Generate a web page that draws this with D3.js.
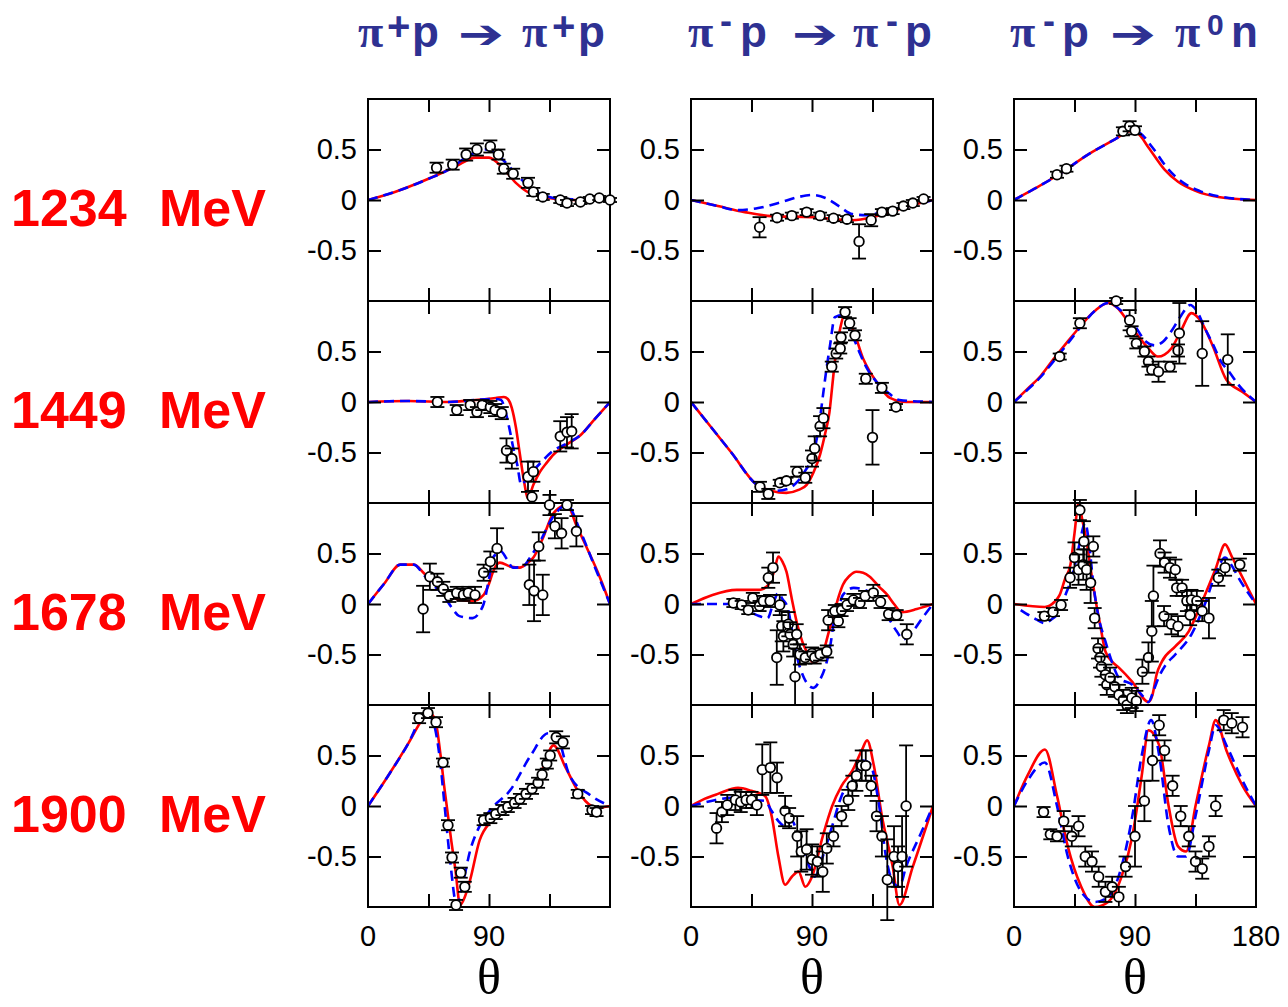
<!DOCTYPE html>
<html><head><meta charset="utf-8">
<script src="https://cdnjs.cloudflare.com/ajax/libs/d3/7.8.5/d3.min.js"></script>
<style>body{margin:0;background:#fff}svg{display:block}</style>
</head><body>
<script>
// ---------------- DATA ----------------
const energies = ["1234", "1449", "1678", "1900"];
const xTicks = [45, 90, 135];
const yTicks = [-0.5, 0, 0.5];
const yTickLabels = ["-0.5", "0", "0.5"];
const xTickLabels = [0, 90, 180];

// 1234 MeV
const red_1234_pp = [[0,0],[20,0.08],[45,0.21],[65,0.33],[80,0.42],[90,0.42],[100,0.32],[110,0.17],[120,0.07],[135,0.02],[150,0],[180,0]];
const blue_1234_pp = [[0,0],[20,0.08],[45,0.21],[60,0.3],[75,0.44],[88,0.5],[100,0.4],[110,0.26],[120,0.13],[130,0.05],[145,0.01],[180,0]];
const data_1234_pp = [[51,0.32,0.05],[63,0.35,0.05],[73,0.45,0.06],[81,0.5,0.06],[91,0.53,0.06],[97,0.45,0.05],[101,0.31,0.05],[108,0.26,0.05],[119,0.17,0.05],[123,0.08,0.04],[130,0.03,0.03],[143,0,0.03],[148,-0.03,0.03],[158,-0.02,0.02],[165,0.01,0.02],[172,0.02,0.02],[180,0,0.02]];

const red_1234_mp = [[0,0],[20,-0.06],[40,-0.12],[60,-0.16],[90,-0.17],[120,-0.2],[135,-0.17],[150,-0.11],[165,-0.05],[180,0]];
const blue_1234_mp = [[0,0],[20,-0.06],[35,-0.1],[50,-0.08],[65,-0.03],[80,0.03],[90,0.05],[100,0.02],[110,-0.06],[120,-0.14],[130,-0.15],[145,-0.11],[165,-0.05],[180,0]];
const data_1234_mp = [[51,-0.27,0.1],[64,-0.175,0.03],[75,-0.155,0.03],[86,-0.12,0.03],[96,-0.155,0.03],[106,-0.18,0.03],[116,-0.19,0.03],[125,-0.41,0.17],[134,-0.2,0.06],[142,-0.12,0.03],[150,-0.11,0.03],[158,-0.06,0.03],[165,-0.03,0.03],[173,0.01,0.02]];

const red_1234_cx = [[0,0],[15,0.11],[33,0.25],[55,0.45],[75,0.6],[86,0.68],[92,0.66],[100,0.52],[112,0.3],[122,0.18],[135,0.09],[152,0.03],[180,0]];
const blue_1234_cx = [[0,0],[15,0.11],[33,0.25],[55,0.45],[75,0.6],[87,0.69],[94,0.66],[103,0.52],[115,0.3],[126,0.17],[138,0.09],[155,0.03],[180,0]];
const data_1234_cx = [[32,0.25,0.03],[39,0.31,0.03],[81,0.68,0.04],[86,0.73,0.05],[90,0.69,0.04]];

// 1449 MeV
const red_1449_pp = [[0,0],[30,0.01],[60,0.0],[80,0.02],[95,0.04],[101,0.05],[104,0.03],[107,-0.06],[110,-0.25],[113,-0.52],[116,-0.78],[119,-0.95],[123,-0.82],[128,-0.69],[133,-0.6],[138,-0.52],[148,-0.42],[158,-0.33],[168,-0.18],[180,0]];
const blue_1449_pp = [[0,0],[30,0.01],[60,0.0],[80,0.02],[95,0.03],[99,0.02],[102,-0.08],[105,-0.25],[108,-0.45],[111,-0.62],[114,-0.82],[118,-0.76],[123,-0.68],[130,-0.58],[137,-0.49],[148,-0.41],[158,-0.33],[168,-0.18],[180,0]];
const data_1449_pp = [[51.6,0,0.05],[66,-0.08,0.05],[76,-0.03,0.05],[81,-0.1,0.05],[85,-0.03,0.05],[91,-0.05,0.06],[94.5,-0.08,0.06],[99.5,-0.11,0.06],[103,-0.48,0.12],[107,-0.56,0.1],[119,-0.74,0.15],[123,-0.69,0.1],[122,-0.94,0.06],[143,-0.34,0.15],[148,-0.3,0.15],[151.5,-0.29,0.17]];

const red_1449_mp = [[0,0],[15,-0.25],[30,-0.5],[49,-0.82],[60,-0.88],[71,-0.9],[80,-0.87],[86,-0.82],[91,-0.7],[96,-0.52],[100,-0.3],[103,-0.1],[105,0.15],[107,0.4],[111,0.73],[114,0.86],[117,0.8],[121,0.7],[128,0.43],[133,0.3],[138,0.2],[148,0.04],[160,0],[180,0]];
const blue_1449_mp = [[0,0],[15,-0.25],[30,-0.5],[49,-0.82],[62,-0.88],[72,-0.86],[79,-0.79],[85,-0.68],[91,-0.52],[95,-0.25],[98.5,0.1],[101,0.35],[103.4,0.56],[107,0.84],[113,0.86],[117,0.74],[121,0.63],[126,0.47],[131,0.33],[138,0.2],[146,0.1],[155,0.02],[180,0]];
const data_1449_mp = [[51.3,-0.84,0.05],[57.5,-0.91,0.05],[66,-0.8,0.03],[71,-0.78,0.03],[79,-0.69,0.05],[85,-0.75,0.05],[90,-0.56,0.08],[92,-0.46,0.12],[96,-0.24,0.1],[98.5,-0.16,0.1],[104.7,0.35,0.05],[108,0.48,0.05],[111,0.53,0.05],[111.6,0.64,0.05],[114.6,0.89,0.05],[118,0.78,0.05],[122,0.66,0.05],[130,0.23,0.05],[142,0.14,0.05],[135,-0.35,0.27],[152.5,-0.05,0.03]];

const red_1449_cx = [[0,0],[10,0.13],[20,0.26],[28,0.4],[40,0.6],[50,0.76],[60,0.9],[70,0.98],[77,0.93],[83,0.83],[92,0.66],[100,0.53],[107,0.45],[112,0.47],[117,0.53],[124,0.7],[132,0.88],[139,0.8],[148,0.55],[158,0.22],[170,0.1],[180,0]];
const blue_1449_cx = [[0,0],[10,0.12],[20,0.25],[28,0.38],[40,0.58],[50,0.75],[60,0.9],[70,0.98],[80,0.9],[90,0.75],[98,0.6],[105,0.56],[111,0.6],[117,0.7],[124,0.85],[131,0.96],[136,0.9],[142,0.73],[148,0.57],[154,0.4],[160,0.3],[167,0.17],[180,0]];
const data_1449_cx = [[34,0.45,0.03],[49,0.78,0.05],[76,1.0,0.03],[86,0.81,0.1],[87.5,0.7,0.05],[91,0.58,0.05],[97,0.5,0.05],[100,0.4,0.05],[102.5,0.32,0.05],[107.5,0.3,0.1],[116,0.35,0.05],[122,0.51,0.06],[123,0.68,0.3],[140,0.48,0.32],[159,0.42,0.25]];

// 1678 MeV
const red_1678_pp = [[0,0],[12,0.2],[24,0.39],[34,0.39],[42,0.3],[51,0.19],[60,0.1],[68,0.04],[78,0.03],[86,0.09],[90,0.2],[93,0.32],[98,0.41],[106,0.37],[113,0.36],[118,0.4],[123,0.46],[130,0.65],[138,0.9],[148,0.98],[155,0.78],[163,0.55],[172,0.28],[180,0]];
const blue_1678_pp = [[0,0],[12,0.2],[24,0.39],[34,0.39],[42,0.28],[50,0.17],[56,0.09],[62,-0.03],[68,-0.12],[78,-0.14],[83,-0.08],[86,0],[90,0.25],[93,0.46],[99,0.52],[103,0.45],[108,0.36],[115,0.37],[121,0.47],[128,0.62],[138,0.87],[148,0.98],[158,0.72],[168,0.39],[180,0]];
const data_1678_pp = [[41,-0.05,0.23],[46,0.27,0.13],[51.6,0.22,0.08],[56,0.15,0.07],[60.5,0.08,0.06],[66,0.11,0.06],[71,0.09,0.06],[74.6,0.11,0.06],[79.6,0.09,0.08],[86,0.31,0.08],[91,0.42,0.1],[96,0.55,0.2],[120,0.19,0.2],[123.5,0.13,0.3],[130,0.09,0.2],[127,0.57,0.14],[135,0.98,0.1],[139,0.77,0.12],[144,0.7,0.15],[148,0.98,0.05],[155,0.72,0.15]];

const red_1678_mp = [[0,0],[16,0.09],[34,0.14],[51,0.14],[56,0.17],[59,0.22],[62,0.33],[65,0.47],[68,0.42],[71,0.32],[75,0.05],[79,-0.2],[83,-0.38],[86,-0.47],[91,-0.58],[95,-0.55],[98.5,-0.47],[102,-0.3],[106,-0.11],[110,0.08],[113,0.19],[118,0.28],[123,0.32],[128,0.31],[133,0.27],[140,0.17],[146,0.09],[151,0.0],[157,-0.08],[168,-0.05],[180,0]];
const blue_1678_mp = [[0,0],[30,0],[40,-0.05],[49,-0.11],[57,-0.14],[61,0],[65,0.11],[68,0.05],[72,-0.04],[75,-0.25],[79,-0.53],[84,-0.73],[91,-0.83],[96,-0.75],[101,-0.57],[104,-0.38],[106,-0.2],[110,-0.03],[113,0.09],[121,0.16],[131,0.13],[141,0],[147,-0.14],[153,-0.27],[158,-0.35],[165,-0.27],[172,-0.14],[180,0]];
const data_1678_mp = [[31.5,0.01,0.04],[37.7,-0.01,0.04],[42.6,-0.06,0.04],[46,0.06,0.05],[51,-0.02,0.05],[53.8,0.03,0.05],[57.5,0.26,0.1],[61,0.36,0.15],[58.8,0.03,0.06],[66,-0.01,0.1],[67.5,-0.22,0.15],[63.8,-0.53,0.27],[68.7,-0.32,0.15],[72.4,-0.2,0.12],[73.7,-0.3,0.12],[76,-0.4,0.12],[77.4,-0.72,0.28],[78.6,-0.3,0.1],[81,-0.5,0.1],[85,-0.53,0.06],[90,-0.49,0.06],[92,-0.53,0.06],[96,-0.5,0.06],[101,-0.47,0.06],[102,-0.16,0.1],[109.6,-0.17,0.06],[107,-0.07,0.06],[112,-0.06,0.06],[116,-0.01,0.06],[120.8,0.04,0.06],[125.7,0.01,0.05],[129.5,0.08,0.05],[135.6,0.11,0.08],[141,0.02,0.06],[147,-0.1,0.06],[153,-0.11,0.05],[160.5,-0.3,0.1]];

const red_1678_cx = [[0,0],[23,-0.03],[30,0.02],[34,0.09],[38,0.25],[42,0.39],[45,0.7],[48,1.0],[51,0.82],[54,0.62],[57,0.35],[60,0.09],[64,-0.2],[68,-0.47],[73,-0.57],[78,-0.63],[88,-0.77],[100,-0.97],[103,-0.9],[106,-0.7],[110,-0.57],[120,-0.42],[130,-0.27],[136,-0.1],[142,0.09],[150,0.35],[157,0.59],[162,0.47],[167,0.34],[180,0]];
const blue_1678_cx = [[5,-0.06],[15,-0.14],[23,-0.19],[28,-0.15],[34,-0.07],[38,0.08],[43,0.26],[48,0.55],[53,0.8],[56,0.58],[59,0.2],[62.6,-0.11],[68,-0.37],[73,-0.58],[78,-0.73],[88,-0.8],[95,-0.9],[100,-0.97],[104,-0.85],[107.5,-0.73],[113,-0.6],[120,-0.5],[132,-0.3],[142,0],[150,0.3],[157,0.46],[162,0.38],[167,0.26],[180,0]];
const data_1678_cx = [[22.6,-0.12,0.04],[29,-0.08,0.04],[35,-0.01,0.05],[41.7,0.26,0.1],[45,0.46,0.15],[48,0.34,0.15],[49,0.93,0.1],[51.5,0.39,0.15],[52,0.62,0.2],[54,0.34,0.2],[57,0.21,0.2],[59,0.57,0.1],[60,-0.14,0.1],[62.5,-0.44,0.1],[64,-0.53,0.1],[65,-0.62,0.1],[68,-0.7,0.1],[69,-0.8,0.1],[71.4,-0.73,0.1],[75,-0.82,0.1],[78,-0.9,0.1],[81.3,-0.95,0.1],[84,-1.0,0.08],[87.6,-0.93,0.1],[91,-0.96,0.1],[95.5,-0.67,0.12],[100,-0.53,0.15],[102.5,-0.27,0.3],[103.7,0.08,0.3],[108.6,0.5,0.13],[112,0.41,0.1],[116,0.36,0.1],[120,0.34,0.1],[111.6,-0.12,0.1],[117,-0.2,0.1],[122,-0.22,0.1],[121,0.16,0.08],[125,0.16,0.08],[128.6,0.03,0.1],[132,0.04,0.1],[136,0.03,0.1],[131,-0.11,0.1],[140,-0.07,0.1],[145,-0.14,0.2],[152,0.26,0.08],[157,0.36,0.08],[168,0.39,0.06]];

// 1900 MeV
const red_1900_pp = [[0,0],[15,0.3],[30,0.62],[40,0.85],[45,0.93],[50,0.85],[54,0.5],[57,0.16],[62,-0.35],[65,-0.63],[68.5,-0.98],[72,-0.9],[76,-0.73],[83,-0.34],[91,-0.16],[98,-0.09],[113,0.06],[128,0.31],[138,0.6],[147,0.38],[158,0.11],[170,-0.02],[180,0]];
const blue_1900_pp = [[0,0],[15,0.3],[30,0.62],[40,0.88],[43,0.92],[48,0.85],[53.6,0.45],[57,0.0],[61,-0.53],[66,-0.98],[70,-0.8],[76,-0.44],[83,-0.2],[91,-0.04],[106,0.16],[121,0.5],[134,0.72],[140,0.7],[150,0.3],[165,0.11],[180,0]];
const data_1900_pp = [[38,0.87,0.05],[44.6,0.92,0.05],[50.6,0.83,0.05],[55.8,0.43,0.04],[59.5,-0.19,0.05],[62.5,-0.51,0.05],[65.5,-0.98,0.05],[69,-0.66,0.05],[72,-0.8,0.05],[86,-0.14,0.05],[91,-0.12,0.05],[95,-0.08,0.05],[100,-0.04,0.05],[104,-0.01,0.05],[109,0.03,0.05],[113,0.07,0.05],[117.5,0.12,0.05],[122,0.17,0.05],[126.5,0.23,0.05],[129.5,0.31,0.05],[133,0.42,0.05],[135.5,0.5,0.05],[140,0.68,0.06],[145,0.63,0.06],[156,0.12,0.04],[166.6,-0.04,0.04],[170,-0.06,0.04]];

const red_1900_mp = [[0,0],[10,0.07],[20,0.12],[35,0.18],[45,0.15],[55,0.1],[60,-0.1],[65,-0.5],[70,-0.78],[75,-0.7],[80,-0.65],[85,-0.8],[90,-0.7],[98,-0.3],[105,0],[112,0.2],[120,0.35],[127,0.55],[131,0.65],[136,0.4],[142,-0.1],[150,-0.6],[155,-0.98],[165,-0.6],[180,0]];
const blue_1900_mp = [[0,0],[15,0.05],[30,0.08],[45,0.06],[55,0.05],[60,-0.05],[65,-0.15],[70,-0.2],[75,-0.15],[80,-0.3],[88,-0.6],[92,-0.7],[98,-0.5],[105,-0.2],[112,0.1],[120,0.25],[128,0.45],[133,0.42],[140,0],[145,-0.5],[150,-0.75],[155,-0.8],[160,-0.6],[170,-0.3],[180,0]];
const data_1900_mp = [[19,-0.22,0.15],[23,-0.06,0.1],[27,0.01,0.1],[33,0.06,0.1],[37,0.04,0.1],[41,0.06,0.08],[45,0.06,0.08],[49,0.01,0.1],[53,0.36,0.25],[59,0.38,0.25],[64,0.28,0.15],[70,-0.05,0.15],[73,-0.12,0.1],[79,-0.3,0.2],[82,-0.45,0.2],[86,-0.43,0.2],[90,-0.53,0.15],[94,-0.55,0.15],[98,-0.65,0.2],[101,-0.42,0.15],[106,-0.3,0.1],[112,-0.1,0.1],[117,0.06,0.1],[120,0.2,0.1],[123,0.3,0.15],[127,0.4,0.15],[130,0.4,0.15],[134,0.2,0.1],[138,-0.1,0.15],[142,-0.3,0.2],[146,-0.73,0.4],[151,-0.5,0.3],[154,-0.6,0.2],[157,-0.5,0.4],[160,0.0,0.6]];

const red_1900_cx = [[0,0],[10,0.3],[23,0.56],[32,0.1],[40,-0.4],[50,-0.8],[60,-1.0],[70,-0.95],[80,-0.7],[88,-0.3],[95,0.3],[100,0.75],[108,0.6],[115,0],[122,-0.4],[128,-0.45],[135,0],[145,0.6],[150,0.85],[158,0.55],[170,0.2],[180,0]];
const blue_1900_cx = [[0,0],[10,0.25],[23,0.43],[32,0.0],[40,-0.5],[50,-0.85],[60,-0.95],[70,-0.9],[80,-0.6],[88,-0.1],[95,0.5],[102,0.85],[108,0.5],[115,-0.2],[122,-0.5],[128,-0.5],[135,-0.1],[145,0.55],[150,0.8],[158,0.6],[170,0.25],[180,0]];
const data_1900_cx = [[22,-0.06,0.05],[27,-0.28,0.05],[32,-0.3,0.05],[37,-0.15,0.1],[43,-0.3,0.1],[48,-0.2,0.1],[53,-0.5,0.1],[58,-0.55,0.1],[63,-0.7,0.1],[68,-0.85,0.1],[73,-0.8,0.1],[78,-0.9,0.1],[83,-0.6,0.1],[90,-0.3,0.3],[97,0.05,0.2],[103,0.45,0.2],[108,0.8,0.1],[112,0.55,0.1],[118,0.2,0.1],[124,-0.1,0.1],[130,-0.3,0.1],[135,-0.55,0.1],[140,-0.62,0.1],[145,-0.4,0.1],[150,0.0,0.1],[156,0.85,0.1],[162,0.82,0.1],[170,0.78,0.1]];

const panels = [
  [[red_1234_pp, blue_1234_pp, data_1234_pp], [red_1234_mp, blue_1234_mp, data_1234_mp], [red_1234_cx, blue_1234_cx, data_1234_cx]],
  [[red_1449_pp, blue_1449_pp, data_1449_pp], [red_1449_mp, blue_1449_mp, data_1449_mp], [red_1449_cx, blue_1449_cx, data_1449_cx]],
  [[red_1678_pp, blue_1678_pp, data_1678_pp], [red_1678_mp, blue_1678_mp, data_1678_mp], [red_1678_cx, blue_1678_cx, data_1678_cx]],
  [[red_1900_pp, blue_1900_pp, data_1900_pp], [red_1900_mp, blue_1900_mp, data_1900_mp], [red_1900_cx, blue_1900_cx, data_1900_cx]]
];

// reaction titles: [text, kind] kind 0 = normal, 1 = raised plus, 2 = superscript, 3 = arrow
const title_pp = [["π",0],["+",1],["p",0],["➔",3],["π",0],["+",1],["p",0]];
const title_mp = [["π",0],["-",2],["p",0],["➔",3],["π",0],["-",2],["p",0]];
const title_cx = [["π",0],["-",2],["p",0],["➔",3],["π",0],["0",2],["n",0]];

// ---------------- LAYOUT ----------------
const W = 1288, H = 1007;
const colLeft = [368, 691, 1014];
const rowTop = [99, 301, 503, 705];
const pw = 242, ph = 202;
const titleColor = "#2e3192";
const sansF = "'Liberation Sans', Arial, Helvetica, sans-serif";

const svg = d3.select("body").append("svg").attr("width", W).attr("height", H);
const defs = svg.append("defs");

const titleX = [
  [358, 387, 412, 458, 522, 552, 578],
  [688, 720, 740, 792, 853, 886, 905],
  [1010, 1043, 1062, 1110, 1175, 1207, 1231]
];
[title_pp, title_mp, title_cx].forEach((parts, c) => {
  const g = svg.append("g").attr("fill", titleColor);
  parts.forEach(([s, kind], i) => {
    const t = g.append("text").attr("x", titleX[c][i]).text(s);
    if (s === "π") {
      t.attr("y", 47).attr("font-family", "'Liberation Serif', 'Times New Roman', serif")
        .attr("font-weight", "bold").attr("font-size", 46);
    } else if (kind === 0) {
      t.attr("y", 47).attr("font-family", sansF).attr("font-weight", "bold").attr("font-size", 44);
    } else if (kind === 1) {
      t.attr("y", 40).attr("font-family", sansF).attr("font-weight", "bold").attr("font-size", 40);
    } else if (kind === 2) {
      t.attr("y", s === "0" ? 35 : 33).attr("font-family", sansF).attr("font-weight", "bold")
        .attr("font-size", s === "0" ? 30 : 36);
    } else {
      t.attr("y", 48).attr("font-family", "'DejaVu Sans', sans-serif").attr("font-size", 40)
        .attr("textLength", 46).attr("lengthAdjust", "spacingAndGlyphs");
    }
  });
});

energies.forEach((e, r) => {
  const by = rowTop[r] + ph / 2 + 26;
  const g = svg.append("g").attr("font-family", sansF)
    .attr("font-weight", "bold").attr("font-size", 52).attr("fill", "#ff0000");
  g.append("text").attr("x", 11).attr("y", by).text(e);
  g.append("text").attr("x", 159).attr("y", by).text("MeV");
});

const line = (x, y) => d3.line().x(d => x(d[0])).y(d => y(d[1])).curve(d3.curveMonotoneX);

panels.forEach((row, r) => {
  row.forEach(([red, blue, dat], c) => {
    const x0 = colLeft[c], y0 = rowTop[r];
    const x = d3.scaleLinear().domain([0, 180]).range([x0, x0 + pw]);
    const y = d3.scaleLinear().domain([-1, 1]).range([y0 + ph, y0]);
    const id = `clip-${r}-${c}`;
    defs.append("clipPath").attr("id", id).append("rect")
      .attr("x", x0).attr("y", y0).attr("width", pw).attr("height", ph);
    const g = svg.append("g");
    const gl = g.append("g").attr("clip-path", `url(#${id})`);
    gl.append("path").datum(red).attr("d", line(x, y)).attr("fill", "none")
      .attr("stroke", "#ff0000").attr("stroke-width", 2.6);
    gl.append("path").datum(blue).attr("d", line(x, y)).attr("fill", "none")
      .attr("stroke", "#0000ff").attr("stroke-width", 2.6).attr("stroke-dasharray", "10,6");

    const ax = (axis, tx, ty) => g.append("g").attr("transform", `translate(${tx},${ty})`).call(axis)
      .call(s => s.select(".domain").remove())
      .call(s => s.selectAll(".tick line").attr("stroke", "#000").attr("stroke-width", 2));
    const left = ax(d3.axisLeft(y).tickValues(yTicks).tickSizeInner(-13).tickSizeOuter(0).tickPadding(11)
      .tickFormat((d, i) => yTickLabels[i]), x0, 0);
    left.selectAll("text").attr("font-size", 29).attr("font-family", sansF).attr("fill", "#000");
    ax(d3.axisRight(y).tickValues(yTicks).tickSizeInner(-13).tickSizeOuter(0).tickFormat(""), x0 + pw, 0);
    ax(d3.axisTop(x).tickValues(xTicks).tickSizeInner(-13).tickSizeOuter(0).tickFormat(""), 0, y0);
    ax(d3.axisBottom(x).tickValues(xTicks).tickSizeInner(-13).tickSizeOuter(0).tickFormat(""), 0, y0 + ph);

    g.append("rect").attr("x", x0).attr("y", y0).attr("width", pw).attr("height", ph)
      .attr("fill", "none").attr("stroke", "#000").attr("stroke-width", 2);

    const gd = g.append("g").attr("stroke", "#000").attr("stroke-width", 1.8);
    dat.forEach(([t, v, e]) => {
      const px = x(t), py = y(v), e1 = y(v + e), e2 = y(v - e);
      if (Math.abs(e2 - e1) > 10) {
        gd.append("line").attr("x1", px).attr("x2", px).attr("y1", e1).attr("y2", py - 5);
        gd.append("line").attr("x1", px).attr("x2", px).attr("y1", py + 5).attr("y2", e2);
      }
      gd.append("line").attr("x1", px - 7).attr("x2", px + 7).attr("y1", e1).attr("y2", e1);
      gd.append("line").attr("x1", px - 7).attr("x2", px + 7).attr("y1", e2).attr("y2", e2);
      gd.append("circle").attr("cx", px).attr("cy", py).attr("r", 4.8).attr("fill", "#fff");
    });

    if (r === 3) {
      const labs = c === 2 ? xTickLabels : xTickLabels.slice(0, 2);
      labs.forEach(v => {
        svg.append("text").attr("x", x(v)).attr("y", y0 + ph + 39).attr("text-anchor", "middle")
          .attr("font-size", 29).attr("font-family", sansF).text(v);
      });
      svg.append("text").attr("x", x(90)).attr("y", 994).attr("text-anchor", "middle")
        .attr("font-size", 50).attr("font-family", "'Liberation Serif', 'DejaVu Serif', serif").text("θ");
    }
  });
});
</script>
</body></html>
